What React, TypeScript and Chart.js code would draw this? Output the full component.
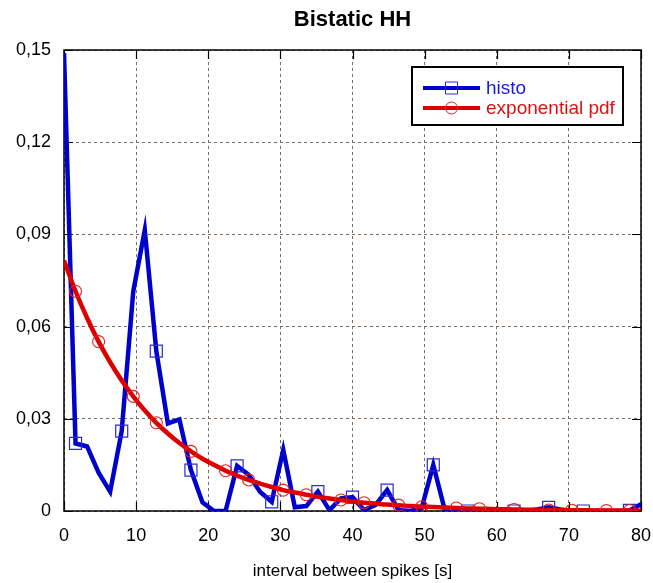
import React, { useEffect, useRef } from 'react';
import { Chart, registerables } from 'chart.js';

Chart.register(...registerables);

const TITLE = 'Bistatic HH';
const X_LABEL = 'interval between spikes [s]';
const SERIES_NAMES = ['histo', 'exponential pdf'];

const X_VALUES = [0, 1.6, 3.2, 4.8, 6.4, 8, 9.6, 11.2, 12.8, 14.4, 16, 17.6, 19.2, 20.8, 22.4, 24, 25.6, 27.2, 28.8, 30.4, 32, 33.6, 35.2, 36.8, 38.4, 40, 41.6, 43.2, 44.8, 46.4, 48, 49.6, 51.2, 52.8, 54.4, 56, 57.6, 59.2, 60.8, 62.4, 64, 65.6, 67.2, 68.8, 70.4, 72, 73.6, 75.2, 76.8, 78.4, 80];

const HISTO = [0.149, 0.022, 0.021, 0.0125, 0.0063, 0.026, 0.0714, 0.0914, 0.052, 0.0285, 0.0298, 0.0133, 0.0028, 0, 0, 0.0147, 0.0118, 0.0062, 0.003, 0.0199, 0.0012, 0.0016, 0.0063, 0.0003, 0.0041, 0.0045, 0.0003, 0.002, 0.0068, 0.0003, 0, 0.001, 0.015, 0.0003, 0, 0, 0, 0, 0, 0, 0, 0.0005, 0.0012, 0.0005, 0, 0, 0, 0, 0, 0.0002, 0.0022];

const EXP_PDF = [0.0815, 0.0715, 0.0628, 0.0551, 0.0484, 0.0425, 0.0373, 0.0327, 0.0287, 0.0252, 0.0221, 0.0194, 0.017, 0.015, 0.0131, 0.0115, 0.0101, 0.0089, 0.0078, 0.0068, 0.006, 0.0053, 0.0046, 0.0041, 0.0036, 0.0031, 0.0027, 0.0024, 0.0021, 0.0019, 0.0016, 0.0014, 0.0013, 0.0011, 0.001, 0.00085, 0.00074, 0.00065, 0.00057, 0.0005, 0.00044, 0.00039, 0.00034, 0.0003, 0.00026, 0.00023, 0.0002, 0.00018, 0.00016, 0.00014, 0.00012];

const HISTO_MARKERS = [1, 5, 8, 11, 15, 18, 22, 25, 28, 32, 35, 39, 42, 45, 49];
const EXP_MARKERS = [1, 3, 6, 8, 11, 14, 16, 19, 21, 24, 26, 29, 31, 34, 36, 39, 42, 44, 47, 49];

const X_TICKS = [0, 10, 20, 30, 40, 50, 60, 70, 80];
const Y_TICKS = [0, 0.03, 0.06, 0.09, 0.12, 0.15];
const Y_TICK_LABELS = ['0', '0,03', '0,06', '0,09', '0,12', '0,15'];

const BLUE = '#0000cc';
const BLUE_MARK = '#2a2ad6';
const RED = '#dd0000';
const RED_MARK = '#e52020';
const GRID = '#7d6a60';
const FONT = '"Liberation Sans", Arial, Helvetica, sans-serif';

const decorPlugin = {
  id: 'decor',
  beforeDatasetsDraw(chart: any) {
    const { ctx, chartArea: a, scales } = chart;
    const x = scales.x;
    const y = scales.y;
    ctx.save();
    ctx.strokeStyle = '#000';
    ctx.lineWidth = 1.5;
    ctx.setLineDash([]);
    ctx.strokeRect(a.left, a.top, a.right - a.left, a.bottom - a.top);
    ctx.lineWidth = 1.2;
    const L = 9;
    ctx.beginPath();
    X_TICKS.forEach((v) => {
      const px = Math.round(x.getPixelForValue(v)) + 0.5;
      ctx.moveTo(px, a.bottom);
      ctx.lineTo(px, a.bottom - L);
      ctx.moveTo(px, a.top);
      ctx.lineTo(px, a.top + L);
    });
    Y_TICKS.forEach((v) => {
      const py = Math.round(y.getPixelForValue(v)) + 0.5;
      ctx.moveTo(a.left, py);
      ctx.lineTo(a.left + L, py);
      ctx.moveTo(a.right, py);
      ctx.lineTo(a.right - L, py);
    });
    ctx.stroke();
    ctx.restore();
  },
  afterDatasetsDraw(chart: any) {
    const { ctx, chartArea: a } = chart;
    ctx.save();
    // title
    ctx.fillStyle = '#000';
    ctx.font = `bold 22px ${FONT}`;
    ctx.textAlign = 'center';
    ctx.textBaseline = 'middle';
    ctx.fillText(TITLE, (a.left + a.right) / 2, 20);

    // legend
    const bx = a.right - 229;
    const by = a.top + 17;
    const bw = 211;
    const bh = 58;
    ctx.fillStyle = '#fff';
    ctx.fillRect(bx, by, bw, bh);
    ctx.strokeStyle = '#000';
    ctx.lineWidth = 2;
    ctx.strokeRect(bx, by, bw, bh);
    const entries = [
      { label: SERIES_NAMES[0], color: BLUE, mark: BLUE_MARK, text: '#1a1ae0', shape: 'rect' },
      { label: SERIES_NAMES[1], color: RED, mark: RED_MARK, text: '#e01010', shape: 'circle' },
    ];
    entries.forEach((e, i) => {
      const ly = by + 21 + i * 20;
      ctx.strokeStyle = e.color;
      ctx.lineWidth = 4;
      ctx.beginPath();
      ctx.moveTo(bx + 11, ly);
      ctx.lineTo(bx + 68, ly);
      ctx.stroke();
      ctx.strokeStyle = e.mark;
      ctx.lineWidth = 1;
      ctx.beginPath();
      if (e.shape === 'rect') {
        ctx.rect(bx + 39.5 - 6, ly - 6, 12, 12);
      } else {
        ctx.arc(bx + 39.5, ly, 6, 0, Math.PI * 2);
      }
      ctx.stroke();
      ctx.fillStyle = e.text;
      ctx.font = `19px ${FONT}`;
      ctx.textAlign = 'left';
      ctx.textBaseline = 'middle';
      ctx.fillText(e.label, bx + 74, ly + 1);
    });
    ctx.restore();
  },
};

export default function App() {
  const canvasRef = useRef<HTMLCanvasElement | null>(null);

  useEffect(() => {
    document.body.style.margin = '0';
    const canvas = canvasRef.current;
    if (!canvas) return;
    const histoSet = new Set(HISTO_MARKERS);
    const expSet = new Set(EXP_MARKERS);
    const chart = new Chart(canvas, {
      type: 'line',
      data: {
        datasets: [
          {
            label: SERIES_NAMES[0],
            data: X_VALUES.map((x, i) => ({ x, y: HISTO[i] })),
            borderColor: BLUE,
            borderWidth: 4.5,
            borderJoinStyle: 'miter',
            tension: 0,
            pointStyle: 'rect',
            pointRadius: (c: any) => (histoSet.has(c.dataIndex) ? 8.5 : 0),
            pointBorderColor: BLUE_MARK,
            pointBackgroundColor: 'rgba(0,0,0,0)',
            pointBorderWidth: 1.2,
            order: 2,
          },
          {
            label: SERIES_NAMES[1],
            data: X_VALUES.map((x, i) => ({ x, y: EXP_PDF[i] })),
            borderColor: RED,
            borderWidth: 4.5,
            tension: 0.3,
            pointStyle: 'circle',
            pointRadius: (c: any) => (expSet.has(c.dataIndex) ? 6 : 0),
            pointBorderColor: RED_MARK,
            pointBackgroundColor: 'rgba(0,0,0,0)',
            pointBorderWidth: 1.1,
            order: 1,
          },
        ],
      },
      options: {
        animation: false,
        responsive: true,
        maintainAspectRatio: false,
        layout: { padding: { top: 50, right: 12, left: 0, bottom: 0 } },
        plugins: {
          legend: { display: false },
          title: { display: false },
          tooltip: { enabled: false },
        },
        scales: {
          x: {
            type: 'linear',
            min: 0,
            max: 80,
            afterBuildTicks: (axis: any) => {
              axis.ticks = X_TICKS.map((v) => ({ value: v }));
            },
            afterFit: (axis: any) => {
              axis.height = 72;
              axis.paddingLeft = 0;
              axis.paddingRight = 0;
            },
            grid: { color: GRID, lineWidth: 1, drawTicks: false },
            border: { display: false, dash: [3, 3] },
            ticks: {
              color: '#000',
              font: { family: FONT, size: 18 },
              padding: 14,
              maxRotation: 0,
              callback: (v: any) => String(v),
            },
            title: {
              display: true,
              text: X_LABEL,
              color: '#000',
              font: { family: FONT, size: 17 },
              padding: { top: 0, bottom: 1 },
            },
          },
          y: {
            type: 'linear',
            min: 0,
            max: 0.15,
            afterBuildTicks: (axis: any) => {
              axis.ticks = Y_TICKS.map((v) => ({ value: v }));
            },
            afterFit: (axis: any) => {
              axis.width = 64;
              axis.paddingTop = 0;
              axis.paddingBottom = 0;
            },
            grid: { color: GRID, lineWidth: 1, drawTicks: false },
            border: { display: false, dash: [3, 3] },
            ticks: {
              color: '#000',
              font: { family: FONT, size: 18 },
              padding: 13,
              callback: (v: any) => {
                const idx = Y_TICKS.findIndex((t) => Math.abs(t - v) < 1e-9);
                return idx >= 0 ? Y_TICK_LABELS[idx] : '';
              },
            },
          },
        },
      },
      plugins: [decorPlugin],
    } as any);
    return () => chart.destroy();
  }, []);

  return (
    <div style={{ position: 'relative', width: 653, height: 583 }}>
      <canvas ref={canvasRef} />
    </div>
  );
}
